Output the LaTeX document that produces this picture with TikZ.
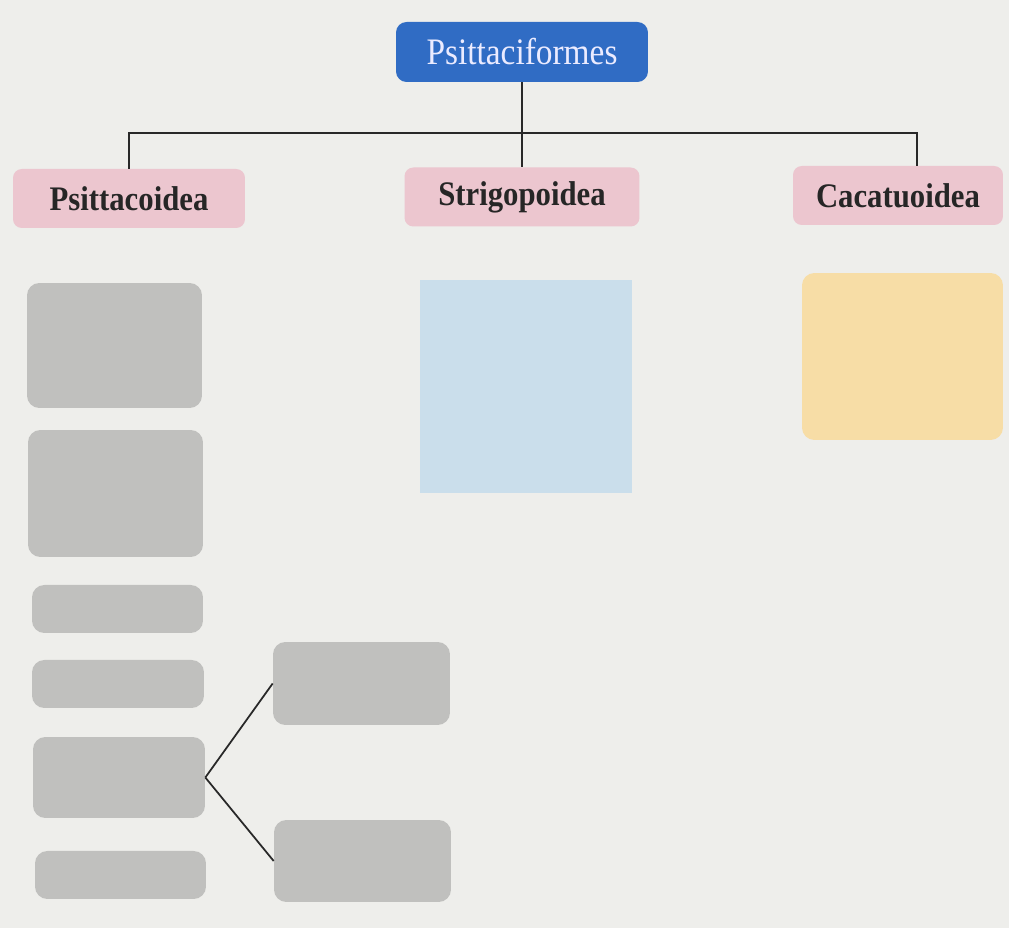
\documentclass[tikz,border=0pt]{standalone}
\usepackage{fontspec}
\setmainfont{Liberation Serif}
\usepackage{xcolor}
\usepackage{graphicx}
\usetikzlibrary{positioning,calc}
\definecolor{pagebg}{RGB}{238,238,235}
\definecolor{orderblue}{RGB}{48,108,196}
\definecolor{superpink}{RGB}{236,198,207}
\definecolor{boxgray}{RGB}{192,192,190}
\definecolor{paleblue}{RGB}{202,222,235}
\definecolor{paleyellow}{RGB}{247,221,166}
\definecolor{linegray}{RGB}{40,40,40}
\newcommand{\tallword}[1]{\scalebox{1}[1.12]{#1}}

\begin{document}
\begin{tikzpicture}[x=0.02cm,y=-0.02cm,
  topbx/.style={fill=orderblue,rounded corners=6pt,inner sep=0pt,
             minimum width=5.04cm,minimum height=1.2cm,
             text=white!92!blue,font=\fontsize{19}{22}\selectfont},
  pkbx/.style={fill=superpink,rounded corners=5pt,inner sep=0pt,
             minimum height=1.18cm,text=black!85,
             font=\bfseries\fontsize{17.5}{21}\selectfont},
  gybx/.style={fill=boxgray,rounded corners=7pt,inner sep=0pt},
  ln/.style={draw=linegray,line width=1pt}]
  \useasboundingbox[fill=pagebg] (0,0) rectangle (1009,928);

  \node[topbx](ord) at (522,52)      {\tallword{Psittaciformes}};
  \node[pkbx,minimum width=4.64cm](psi) at (129,198.5) {\tallword{Psittacoidea}};
  \node[pkbx,minimum width=4.7cm](str)  at (522,197)   {\tallword{Strigopoidea}};
  \node[pkbx,minimum width=4.2cm](cac)  at (898,195.5) {\tallword{Cacatuoidea}};
  \coordinate (hub) at (522,133);

  % coloured panels
  \node[fill=paleblue,inner sep=0pt,minimum width=4.24cm,minimum height=4.26cm](pan1) at (526,386.5) {};
  \node[fill=paleyellow,rounded corners=7pt,inner sep=0pt,minimum width=4.02cm,minimum height=3.34cm](pan2) at (902.5,356.5) {};

  % blank grey boxes
  \node[gybx,minimum width=3.5cm,minimum height=2.5cm]   (g1) at (114.5,345.5) {};
  \node[gybx,minimum width=3.5cm,minimum height=2.54cm]  (g2) at (115.5,493.5) {};
  \node[gybx,minimum width=3.42cm,minimum height=0.96cm] (g3) at (117.5,609)   {};
  \node[gybx,minimum width=3.44cm,minimum height=0.96cm] (g4) at (118,684)     {};
  \node[gybx,minimum width=3.44cm,minimum height=1.62cm] (g5) at (119,777.5)   {};
  \node[gybx,minimum width=3.42cm,minimum height=0.96cm] (g6) at (120.5,875)   {};
  \node[gybx,minimum width=3.54cm,minimum height=1.66cm] (r1) at (361.5,683.5) {};
  \node[gybx,minimum width=3.54cm,minimum height=1.64cm] (r2) at (362.5,861)   {};

  \draw[ln](ord.south) -- (hub);
  \draw[ln](psi.north) |- (hub) -| ([xshift=0.38cm]cac.north);
  \draw[ln](hub) -- (str.north);
  \foreach \j in {r1,r2}{
    \draw[ln](g5.east) -- (\j.west);}
\end{tikzpicture}
\end{document}
